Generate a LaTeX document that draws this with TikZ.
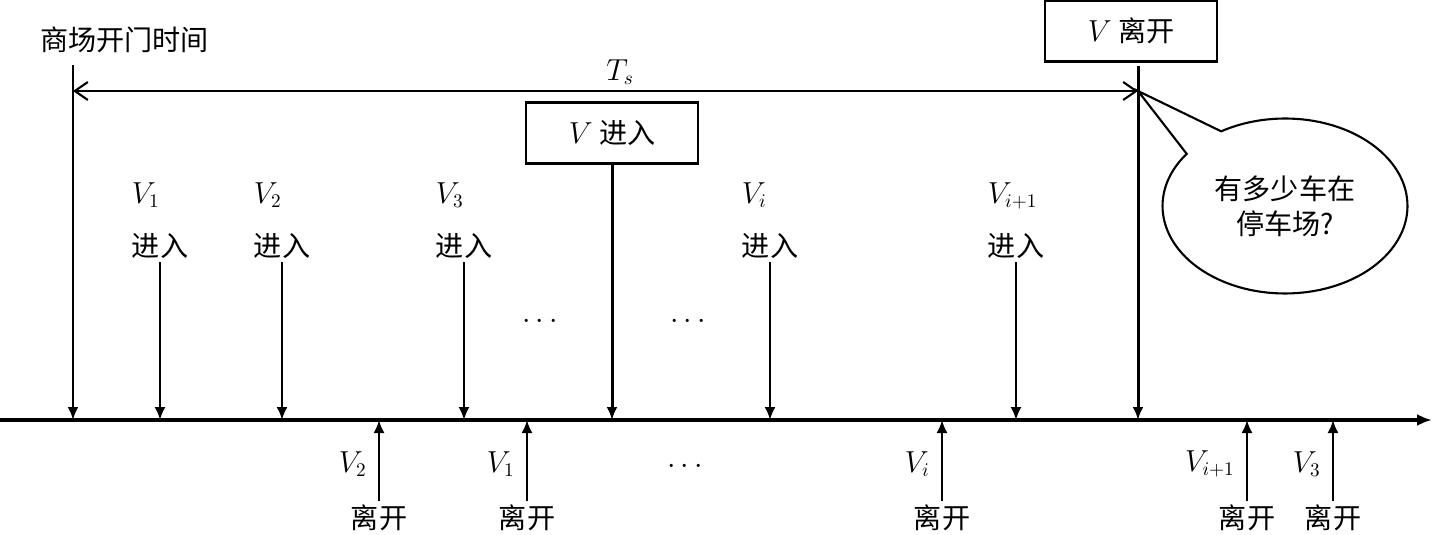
\documentclass[tikz,border=0pt]{standalone}
\usepackage{fontspec}
\newfontfamily\cjk{Noto Sans CJK SC}
\usetikzlibrary{arrows.meta,shapes.callouts}

\tikzset{
	box/.style={draw, line width=1.3pt, minimum width=3.44cm, minimum height=1.22cm},
	down/.style={line width=1.2pt, -{Latex[length=2.6mm,width=2.2mm]}},
	tall/.style={line width=1.7pt, -{Latex[length=2.6mm,width=2.2mm]}},
	lbl/.style={align=left, inner sep=2pt}
}

\begin{document}
\begin{tikzpicture}[x=0.02cm, y=-0.02cm, font=\fontsize{16}{20}\selectfont\cjk]
	
	\useasboundingbox (0,0) rectangle (1433,534);
	
	% time axis
	\coordinate (o) at (0,420);
	\coordinate (end) at (1432,420);
	\draw[line width=1.8pt, -{Latex[length=3mm,width=2.4mm]}] (o) -- (end);
	
	% opening time and V leaves
	\node[anchor=west, inner sep=0pt] (open) at (40,40) {商场开门时间};
	\coordinate (open0) at (73,65);
	\draw[tall] (open0) -- (73,420);
	
	\node[box] (vout) at (1131,31) {$V$ 离开};
	\coordinate (vout0) at (1138,66);
	\draw[tall] (vout0) -- (1138,420);
	
	% T_s span
	\coordinate (ts0) at (73,91);
	\coordinate (ts1) at (1138,91);
	\draw[line width=1.2pt, {Straight Barb[length=2.6mm,width=3.6mm]}-{Straight Barb[length=2.6mm,width=3.6mm]}] (ts0) -- (ts1);
	\node (ts) at (620,72) {$T_s$};
	
	% V enters
	\node[box] (vin) at (612,133) {$V$ 进入};
	\draw[tall] (vin.south) -- (612,420);
	
	% other cars enter
	\foreach \x/\lab/\n in {160/1/a, 282/2/b, 464/3/c, 770/i/d, 1016/{i+1}/e} {
		\node[lbl, anchor=south] (in\n) at (\x,262) {$V_{\lab}$\\[10pt]进入};
		\draw[down] (in\n.south) -- (\x,420);
	}
	
	% other cars leave
	\foreach \x/\lab/\n in {379/2/a, 527/1/b, 942/i/c, 1247/{i+1}/d, 1333/3/e} {
		\node[inner sep=2pt] (out\n) at (\x,518) {离开};
		\node[anchor=east, inner sep=0pt] (lab\n) at (\x-12,464) {$V_{\lab}$};
		\draw[down] (out\n.north) -- (\x,420);
	}
	
	\node (dots1) at (540,322) {$\cdots$};
	\node (dots2) at (688,322) {$\cdots$};
	\node (dots3) at (685,467) {$\cdots$};
	
	% question
	\node[ellipse callout, draw, line width=1.2pt, align=center,
		minimum width=4.9cm, minimum height=3.5cm, callout pointer arc=22,
		callout absolute pointer={(ts1)}] (ask) at (1285,206) {有多少车在\\停车场?};
	
\end{tikzpicture}
\end{document}
